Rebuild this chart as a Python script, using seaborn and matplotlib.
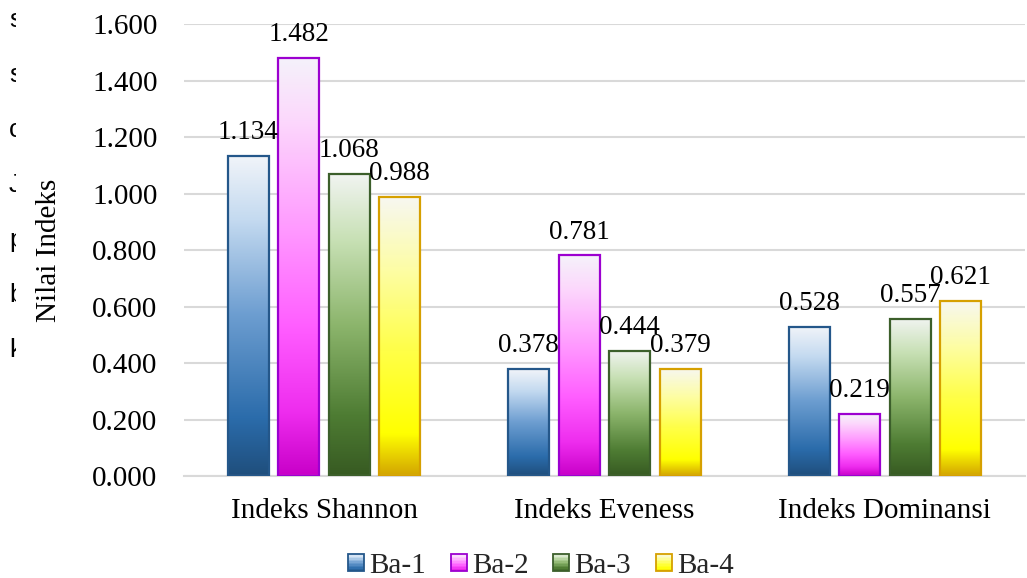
import numpy as np
import pandas as pd
import matplotlib
matplotlib.use("Agg")
import matplotlib.pyplot as plt
import seaborn as sns
from matplotlib.colors import LinearSegmentedColormap
from matplotlib.patches import Rectangle
from matplotlib.legend_handler import HandlerBase
from matplotlib.transforms import Bbox

categories = ["Indeks Shannon", "Indeks Eveness", "Indeks Dominansi"]
series = ["Ba-1", "Ba-2", "Ba-3", "Ba-4"]
ba1 = [1.134, 0.378, 0.528]
ba2 = [1.482, 0.781, 0.219]
ba3 = [1.068, 0.444, 0.557]
ba4 = [0.988, 0.379, 0.621]
yticks = [0.0, 0.2, 0.4, 0.6, 0.8, 1.0, 1.2, 1.4, 1.6]
side_letters = ["s", "s", "c", "J", "p", "b", "k"]

# gradient stops (bottom -> top) and edge colours per series
grad_stops = {
    "Ba-1": [(0.0, "#1f4e7c"), (0.18, "#2b6cab"), (0.5, "#6c9dd0"), (0.8, "#c4daf0"), (1.0, "#f1f4f9")],
    "Ba-2": [(0.0, "#c800c8"), (0.15, "#ee2cee"), (0.35, "#ff5cff"), (0.6, "#ff9cff"), (0.85, "#fcd8fc"), (1.0, "#f5f2fa")],
    "Ba-3": [(0.0, "#375a22"), (0.2, "#4e7c33"), (0.5, "#8cb56c"), (0.78, "#c7e0b4"), (1.0, "#f1f4f1")],
    "Ba-4": [(0.0, "#d2a400"), (0.15, "#ffff00"), (0.45, "#ffff48"), (0.75, "#fdfda8"), (1.0, "#f7f7f1")],
}
edge_cols = {"Ba-1": "#24578a", "Ba-2": "#9c00d0", "Ba-3": "#3c5f2b", "Ba-4": "#d6a000"}
cmaps = {k: LinearSegmentedColormap.from_list(k, v) for k, v in grad_stops.items()}

df = pd.DataFrame({
    "Indeks": categories * 4,
    "Stasiun": sum([[s] * 3 for s in series], []),
    "Nilai": ba1 + ba2 + ba3 + ba4,
})

sns.set_theme(style="white")
plt.rcParams["font.family"] = ["Liberation Serif", "DejaVu Serif"]

fig = plt.figure(figsize=(10.27, 5.78), dpi=100)
ax = fig.add_axes([184 / 1027, 1 - 476 / 578, (1025 - 184) / 1027, (476 - 24.2) / 578])

sns.barplot(data=df, x="Indeks", y="Nilai", hue="Stasiun", order=categories,
            hue_order=series, width=0.72, gap=0.185, ax=ax, legend=False,
            palette=[edge_cols[s] for s in series], saturation=1, errorbar=None)

grad = np.linspace(0, 1, 256).reshape(-1, 1)
bars = [p for p in ax.patches if isinstance(p, Rectangle)]
for i, p in enumerate(bars):
    s = series[i // len(categories)]
    x0, w, h = p.get_x(), p.get_width(), p.get_height()
    p.set_facecolor("none")
    p.set_edgecolor(edge_cols[s])
    p.set_linewidth(1.6)
    p.set_zorder(3)
    im = ax.imshow(grad, cmap=cmaps[s], origin="lower", aspect="auto",
                   extent=[x0, x0 + w, 0, h], zorder=2, interpolation="bilinear")
    im.set_clip_path(p)
    ax.annotate(f"{h:.3f}", (x0 + w / 2, h), xytext=(0, 12.2), textcoords="offset points",
                ha="center", va="baseline", fontsize=19.5, color="#000000", zorder=5)

ax.set_xlim(-0.5, 2.5)
ax.set_ylim(0, 1.6)
ax.set_yticks(yticks)
ax.set_yticklabels([f"{v:.3f}" for v in yticks])
ax.yaxis.grid(True, color="#d9d9d9", linewidth=1.5, zorder=0)
ax.set_axisbelow(True)
for sp in ["top", "right", "left"]:
    ax.spines[sp].set_visible(False)
ax.spines["bottom"].set_color("#d9d9d9")
ax.spines["bottom"].set_linewidth(1.5)
ax.tick_params(axis="both", length=0, labelsize=21, colors="#000000")
ax.tick_params(axis="y", pad=19)
ax.tick_params(axis="x", pad=16)
ax.set_xlabel("")
ax.set_ylabel("Nilai Indeks", fontsize=21, color="#000000", va="center")
ax.yaxis.set_label_coords((49 - 184) / 841, 0.5)


class GradHandler(HandlerBase):
    def create_artists(self, legend, orig_handle, xdescent, ydescent, width, height, fontsize, trans):
        s = orig_handle.get_label()
        n = 12
        arts = []
        for k in range(n):
            c = cmaps[s]((k + 0.5) / n)
            arts.append(Rectangle((-xdescent, -ydescent + height * k / n), width, height / n,
                                  facecolor=c, edgecolor="none", transform=trans))
        arts.append(Rectangle((-xdescent, -ydescent), width, height, facecolor="none",
                              edgecolor=edge_cols[s], linewidth=1.3, transform=trans))
        return arts


handles = [Rectangle((0, 0), 1, 1, label=s) for s in series]
fig.legend(handles=handles, labels=series, handler_map={Rectangle: GradHandler()},
           loc="center", bbox_to_anchor=(541 / 1027, 1 - 566 / 578), ncol=4, frameon=False,
           fontsize=21, handlelength=0.55, handleheight=0.55, handletextpad=0.18,
           columnspacing=0.85, borderaxespad=0, borderpad=0)

# partial text from the surrounding document, cut at the left edge
clip = Bbox([[0, 0], [16, 578]])
for k, ch in enumerate(side_letters):
    t = fig.text(9 / 1027, 1 - (27 + 55 * k) / 578, ch, fontsize=19,
                 family=["Liberation Sans", "DejaVu Sans"], va="baseline", ha="left", color="#000000")
    t.set_clip_box(clip)
    t.set_clip_on(True)

fig.savefig("out.png", dpi=100)
